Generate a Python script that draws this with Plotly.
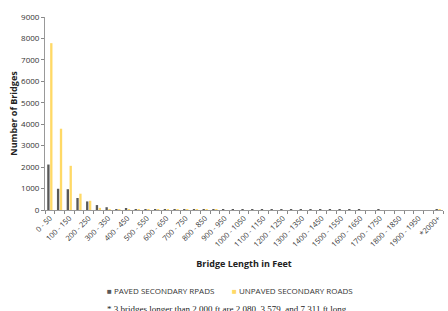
import plotly.graph_objects as go

categories = [f"{i*50} - {i*50+50}" for i in range(40)] + ["*2000+"]
paved = [2120, 990, 970, 560, 400, 230, 130, 40, 60, 20, 15, 10, 10, 6, 5, 5, 4, 3, 3, 2,
         2, 2, 2, 2, 1, 1, 1, 1, 1, 1, 1, 1, 1, 0, 1, 0, 0, 0, 0, 0, 1]
unpaved = [7780, 3790, 2060, 760, 430, 100, 40, 10, 10, 5, 5, 3, 2, 2, 1, 1, 1, 1, 0, 0,
           0, 0, 0, 0, 0, 0, 0, 0, 0, 0, 0, 0, 0, 0, 0, 0, 0, 0, 0, 0, 2]
tick_text = [c if i % 2 == 0 else "" for i, c in enumerate(categories)]
series_names = ["PAVED SECONDARY RPADS", "UNPAVED SECONDARY ROADS"]
series_colors = ["#595959", "#FFD966"]

FONT = "Open Sans"

fig = go.Figure()
fig.add_trace(go.Bar(x=categories, y=paved, name=series_names[0], showlegend=False,
                     marker=dict(color=series_colors[0], line=dict(width=0))))
fig.add_trace(go.Bar(x=categories, y=unpaved, name=series_names[1], showlegend=False,
                     marker=dict(color=series_colors[1], line=dict(width=0))))

# legend drawn as text entries with coloured square glyphs
legend_x = [0.151, 0.465]
annotations = []
for name, color, lx in zip(series_names, series_colors, legend_x):
    annotations.append(dict(
        text=f"<span style='color:{color}'>■</span> {name}",
        xref="paper", yref="paper", x=lx, y=-0.415, xanchor="left", yanchor="middle",
        showarrow=False, font=dict(family=FONT, size=8, color="#333333"),
    ))
annotations.append(dict(
    text="* 3 bridges longer than 2,000 ft are 2,080, 3,579, and 7,311 ft long.",
    xref="paper", yref="paper", x=0.46, y=-0.478, xanchor="center", yanchor="top",
    showarrow=False, font=dict(family="Liberation Serif", size=9, color="#222222"),
))

fig.update_layout(
    width=448, height=311,
    margin=dict(l=45, r=5, t=17, b=101),
    paper_bgcolor="white", plot_bgcolor="white",
    barmode="group", bargap=0.4, bargroupgap=0.2,
    font=dict(family=FONT, size=8, color="#333333"),
    showlegend=False,
    xaxis=dict(
        type="category", tickmode="array", tickvals=categories, ticktext=tick_text,
        tickangle=-45, tickson="boundaries", ticks="outside", ticklen=3,
        tickcolor="#888888", showline=True, linecolor="#999999", linewidth=1,
        tickfont=dict(size=7.5, family=FONT, color="#333333"),
        title=dict(text="<b>Bridge Length in Feet</b>", font=dict(size=9, family=FONT, color="#222222"),
                   standoff=12),
        showgrid=False,
    ),
    yaxis=dict(
        range=[0, 9000], dtick=1000, ticks="outside", ticklen=3, tickcolor="#888888",
        showline=True, linecolor="#999999", linewidth=1, showgrid=False, zeroline=False,
        tickfont=dict(size=8, family=FONT, color="#333333"),
        title=dict(text="<b>Number of Bridges</b>", font=dict(size=9, family=FONT, color="#222222"),
                   standoff=1),
    ),
    annotations=annotations,
)

fig.write_html("out.html")
